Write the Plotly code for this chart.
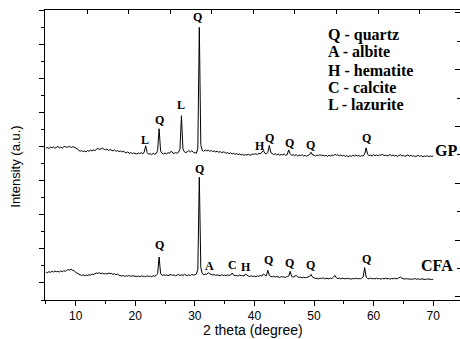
import numpy as np
import plotly.graph_objects as go

# 2-theta grid (degrees), 0.25 deg steps from 5 to 70
two_theta = np.round(np.arange(5.0, 70.001, 0.25), 2)

# GP pattern (arbitrary units, offset)
gp_intensity = [
    3.95, 3.97, 3.94, 3.98, 3.96, 3.99, 3.95, 3.97, 4.00, 3.96, 3.98, 3.95, 3.99, 4.00, 3.97, 3.99, 4.00, 3.97, 3.99, 3.98,
    3.96, 3.93, 3.89, 3.86, 3.88, 3.85, 3.87, 3.84, 3.88, 3.86, 3.89, 3.87, 3.90, 3.88, 3.92, 3.94, 3.91, 3.93, 3.95, 3.92,
    3.90, 3.93, 3.88, 3.91, 3.89, 3.87, 3.90, 3.86, 3.88, 3.85, 3.87, 3.84, 3.86, 3.83, 3.81, 3.84, 3.80, 3.82, 3.79, 3.81,
    3.80, 3.78, 3.81, 3.79, 3.82, 3.78, 3.84, 4.02, 3.82, 3.77, 3.79, 3.76, 3.80, 3.77, 3.79, 3.88, 4.52, 3.87, 3.80, 3.78,
    3.81, 3.78, 3.82, 3.80, 3.86, 3.81, 3.79, 3.82, 3.80, 3.83, 3.92, 4.90, 3.93, 3.84, 3.82, 3.85, 3.88, 3.84, 3.87, 3.83,
    3.82, 3.80, 3.95, 7.49, 4.05, 3.88, 3.86, 3.90, 3.87, 3.89, 3.86, 3.88, 3.85, 3.87, 3.84, 3.86, 3.83, 3.85, 3.82, 3.84,
    3.83, 3.80, 3.82, 3.79, 3.81, 3.78, 3.80, 3.77, 3.79, 3.76, 3.78, 3.75, 3.77, 3.74, 3.76, 3.75, 3.77, 3.74, 3.76, 3.78,
    3.77, 3.79, 3.76, 3.80, 3.78, 3.82, 3.88, 3.80, 3.78, 3.83, 4.03, 3.82, 3.78, 3.76, 3.79, 3.75, 3.78, 3.74, 3.77, 3.75,
    3.78, 3.74, 3.76, 3.90, 3.78, 3.74, 3.76, 3.73, 3.76, 3.72, 3.75, 3.73, 3.76, 3.72, 3.74, 3.71, 3.74, 3.76, 3.83, 3.75,
    3.75, 3.72, 3.75, 3.73, 3.76, 3.73, 3.75, 3.72, 3.74, 3.71, 3.74, 3.72, 3.75, 3.73, 3.77, 3.74, 3.76, 3.73, 3.75, 3.72,
    3.74, 3.71, 3.73, 3.70, 3.73, 3.71, 3.74, 3.72, 3.75, 3.72, 3.74, 3.71, 3.73, 3.72, 3.78, 3.96, 3.77, 3.73, 3.75, 3.72,
    3.76, 3.73, 3.75, 3.72, 3.76, 3.74, 3.77, 3.73, 3.75, 3.72, 3.74, 3.76, 3.73, 3.75, 3.72, 3.74, 3.71, 3.73, 3.76, 3.72,
    3.74, 3.71, 3.73, 3.75, 3.72, 3.74, 3.71, 3.73, 3.70, 3.72, 3.74, 3.71, 3.73, 3.70, 3.72, 3.71, 3.73, 3.70, 3.72, 3.71,
    3.72,
]

# CFA pattern (arbitrary units)
cfa_intensity = [
    0.32, 0.30, 0.33, 0.31, 0.34, 0.32, 0.35, 0.33, 0.34, 0.32, 0.35, 0.33, 0.36, 0.34, 0.37, 0.39, 0.38, 0.40, 0.37, 0.36,
    0.31, 0.28, 0.26, 0.24, 0.22, 0.24, 0.21, 0.23, 0.22, 0.24, 0.23, 0.26, 0.25, 0.27, 0.29, 0.28, 0.30, 0.27, 0.29, 0.26,
    0.28, 0.26, 0.29, 0.27, 0.28, 0.25, 0.27, 0.24, 0.26, 0.23, 0.22, 0.20, 0.22, 0.19, 0.21, 0.20, 0.22, 0.19, 0.21, 0.20,
    0.21, 0.19, 0.20, 0.18, 0.21, 0.19, 0.20, 0.18, 0.21, 0.19, 0.20, 0.18, 0.21, 0.20, 0.22, 0.27, 0.76, 0.28, 0.22, 0.24,
    0.22, 0.24, 0.21, 0.23, 0.25, 0.22, 0.24, 0.21, 0.23, 0.25, 0.22, 0.24, 0.22, 0.25, 0.23, 0.21, 0.24, 0.22, 0.25, 0.23,
    0.24, 0.26, 0.40, 3.10, 0.45, 0.27, 0.24, 0.26, 0.25, 0.30, 0.27, 0.24, 0.23, 0.25, 0.22, 0.24, 0.23, 0.21, 0.24, 0.22,
    0.23, 0.21, 0.24, 0.22, 0.23, 0.29, 0.23, 0.21, 0.22, 0.20, 0.23, 0.21, 0.22, 0.20, 0.26, 0.22, 0.20, 0.19, 0.21, 0.19,
    0.20, 0.18, 0.21, 0.19, 0.22, 0.20, 0.26, 0.23, 0.21, 0.37, 0.22, 0.19, 0.18, 0.20, 0.17, 0.19, 0.18, 0.16, 0.19, 0.17,
    0.18, 0.16, 0.19, 0.20, 0.34, 0.19, 0.17, 0.19, 0.22, 0.18, 0.16, 0.17, 0.15, 0.17, 0.15, 0.16, 0.17, 0.19, 0.25, 0.17,
    0.15, 0.13, 0.14, 0.12, 0.14, 0.13, 0.15, 0.12, 0.14, 0.13, 0.12, 0.14, 0.13, 0.17, 0.22, 0.15, 0.13, 0.14, 0.12, 0.14,
    0.13, 0.12, 0.14, 0.12, 0.13, 0.11, 0.13, 0.12, 0.14, 0.12, 0.13, 0.12, 0.14, 0.18, 0.45, 0.17, 0.13, 0.12, 0.14, 0.12,
    0.13, 0.12, 0.14, 0.12, 0.13, 0.11, 0.13, 0.12, 0.14, 0.12, 0.13, 0.11, 0.13, 0.12, 0.14, 0.12, 0.13, 0.15, 0.17, 0.14,
    0.12, 0.11, 0.13, 0.11, 0.12, 0.10, 0.12, 0.11, 0.13, 0.11, 0.12, 0.10, 0.12, 0.11, 0.12, 0.10, 0.12, 0.11, 0.12, 0.10,
    0.11,
]

# Phase labels over peaks: (text, 2theta, intensity position)
gp_peak_labels = ["L", "Q", "L", "Q", "H", "Q", "Q", "Q", "Q"]
gp_peak_x = [21.6, 24.0, 27.65, 30.5, 41.0, 42.6, 45.85, 49.45, 58.85]
gp_peak_y = [4.19, 4.79, 5.22, 7.80, 4.01, 4.24, 4.09, 4.04, 4.24]

cfa_peak_labels = ["Q", "Q", "A", "C", "H", "Q", "Q", "Q", "Q"]
cfa_peak_x = [24.1, 30.7, 32.4, 36.3, 38.6, 42.3, 45.95, 49.45, 58.75]
cfa_peak_y = [1.11, 3.35, 0.50, 0.53, 0.46, 0.67, 0.58, 0.53, 0.70]

series_names = ["GP", "CFA"]
series_label_x = [72.1, 70.6]
series_label_y = [3.89, 0.52]

phase_key = ["Q - quartz", "A - albite", "H - hematite", "C - calcite", "L - lazurite"]
phase_key_y = [7.27, 6.78, 6.24, 5.73, 5.22]
phase_key_x = 52.0

x_ticks = [10, 20, 30, 40, 50, 60, 70]

SERIF = "Liberation Serif, Times New Roman, serif"
SANS = "Liberation Sans, Arial, sans-serif"

fig = go.Figure()
fig.add_trace(go.Scatter(x=two_theta, y=gp_intensity, mode="lines",
                         line=dict(color="black", width=1), name="GP", showlegend=False))
fig.add_trace(go.Scatter(x=two_theta, y=cfa_intensity, mode="lines",
                         line=dict(color="black", width=1), name="CFA", showlegend=False))
# empty trace so that the top/right frame axes get drawn
fig.add_trace(go.Scatter(x=[None], y=[None], xaxis="x2", yaxis="y2", mode="lines",
                         showlegend=False, hoverinfo="skip"))

annotations = []
for t, xx, yy in zip(gp_peak_labels + cfa_peak_labels, gp_peak_x + cfa_peak_x, gp_peak_y + cfa_peak_y):
    annotations.append(dict(x=xx, y=yy, xref="x", yref="y", text="<b>%s</b>" % t, showarrow=False,
                            font=dict(family=SERIF, size=12, color="black"), xanchor="center", yanchor="middle"))
for t, xx, yy in zip(series_names, series_label_x, series_label_y):
    annotations.append(dict(x=xx, y=yy, xref="x", yref="y", text="<b>%s</b>" % t, showarrow=False,
                            font=dict(family=SERIF, size=16, color="black"), xanchor="center", yanchor="middle"))
for t, yy in zip(phase_key, phase_key_y):
    annotations.append(dict(x=phase_key_x, y=yy, xref="x", yref="y", text="<b>%s</b>" % t, showarrow=False,
                            font=dict(family=SERIF, size=16, color="black"), xanchor="left", yanchor="middle"))
annotations.append(dict(x=0.5, y=-0.103, xref="paper", yref="paper", text="2 theta (degree)", showarrow=False,
                        font=dict(family=SANS, size=14, color="black"), xanchor="center", yanchor="middle"))
annotations.append(dict(x=-0.072, y=0.46, xref="paper", yref="paper", text="Intensity (a.u.)", showarrow=False,
                        textangle=-90, font=dict(family=SANS, size=13, color="black"),
                        xanchor="center", yanchor="middle"))

fig.update_layout(
    width=460, height=339,
    margin=dict(l=45, r=0, t=10, b=39, autoexpand=False),
    paper_bgcolor="white", plot_bgcolor="white",
    showlegend=False,
    annotations=annotations,
    xaxis=dict(range=[4.85, 74.5], tickvals=x_ticks, ticks="outside", ticklen=5, tickwidth=1,
               tickcolor="black", showline=True, linecolor="black", linewidth=1, mirror=False,
               showgrid=False, zeroline=False,
               tickfont=dict(family=SANS, size=12, color="black"),
               minor=dict(dtick=5, tick0=0, ticks="outside", ticklen=3, tickcolor="black", showgrid=False)),
    yaxis=dict(range=[-0.5, 8], tick0=0, dtick=1, ticks="outside", ticklen=5, tickcolor="black",
               showticklabels=False, showline=True, linecolor="black", linewidth=1,
               showgrid=False, zeroline=False,
               minor=dict(dtick=0.5, tick0=0, ticks="outside", ticklen=3, tickcolor="black", showgrid=False)),
    xaxis2=dict(overlaying="x", side="top", anchor="y2", range=[4.85, 74.5], tick0=11.9, dtick=6.98,
                ticks="inside", ticklen=4, tickcolor="black", showticklabels=False,
                showline=True, linecolor="black", linewidth=1, showgrid=False, zeroline=False),
    yaxis2=dict(overlaying="y", side="right", anchor="x2", range=[0, 290], tick0=3.2, dtick=56.8,
                ticks="inside", ticklen=5, tickcolor="black", showticklabels=False,
                showline=False, showgrid=False, zeroline=False,
                minor=dict(dtick=28.4, tick0=3.2, ticks="inside", ticklen=3, tickcolor="black", showgrid=False)),
)

# remove the default page margin so the figure sits at the window's top-left corner
fig.write_html("out.html", config={"displayModeBar": False},
               post_script="document.body.style.margin='0';document.documentElement.style.overflow='hidden';")
